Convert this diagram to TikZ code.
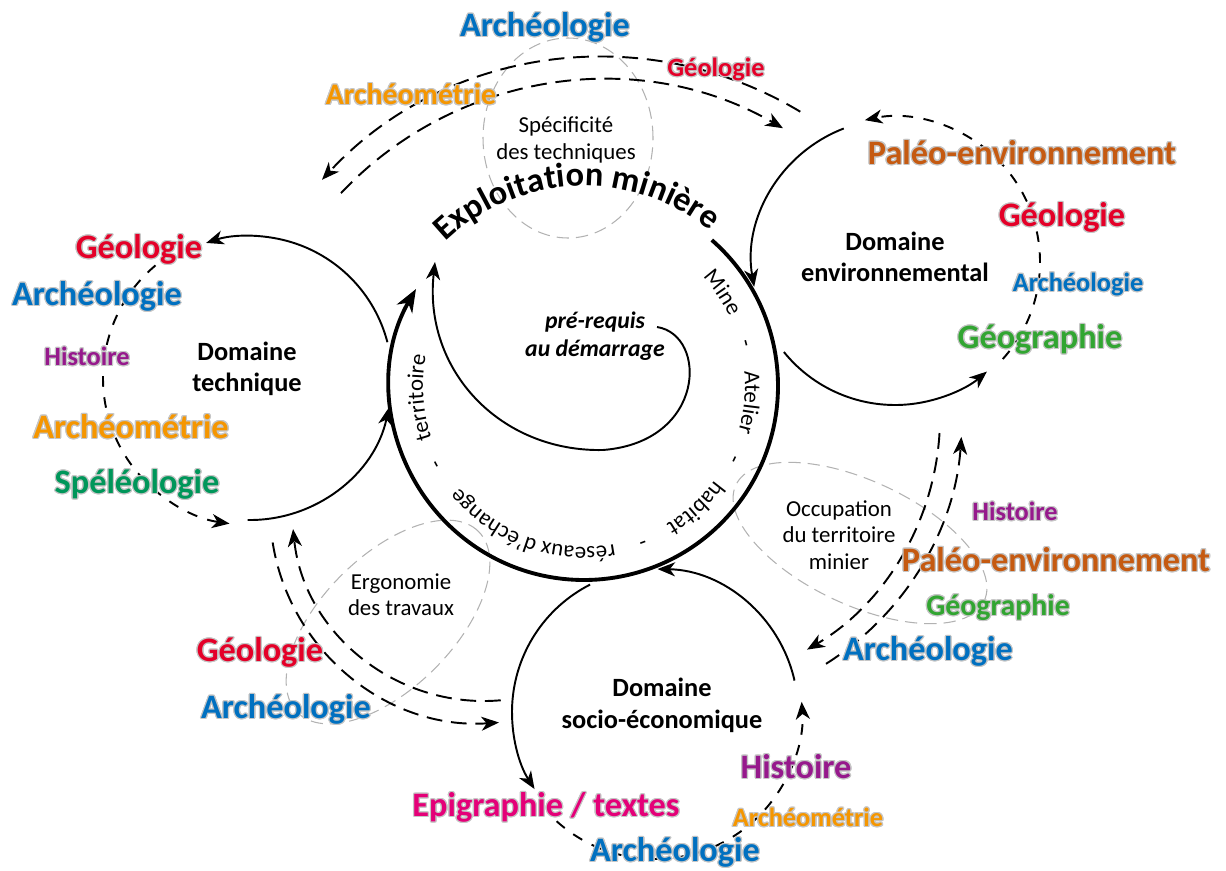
\documentclass[tikz,border=0pt]{standalone}
\usepackage{fontspec}
\setmainfont{Carlito}
\usepackage{contour}
\contourlength{0.7pt}
\usetikzlibrary{arrows.meta,decorations.text}

\definecolor{archblue}{RGB}{0,112,192}
\definecolor{geored}{RGB}{228,0,40}
\definecolor{metrieorange}{RGB}{245,150,0}
\definecolor{paleobrown}{RGB}{197,90,17}
\definecolor{geogreen}{RGB}{50,165,50}
\definecolor{speleogreen}{RGB}{0,150,90}
\definecolor{histpurple}{RGB}{150,25,140}
\definecolor{epipink}{RGB}{228,0,120}

\newcommand\glow[1]{\contour{gray!45}{#1}}
\newcommand\ringfont{\fontsize{13}{15}\selectfont}
\newcommand\titlefont{\bfseries\fontsize{19.5}{22}\selectfont}

\begin{document}
\begin{tikzpicture}[x=0.2mm,y=0.2mm]
        \tikzstyle{every node}=[font=\fontsize{13}{15}\selectfont, align=center]
        \tikzstyle{bigword}=[font=\bfseries\fontsize{19.5}{20}\selectfont]
        \tikzstyle{midword}=[font=\bfseries\fontsize{17}{18}\selectfont]
        \tikzstyle{smallword}=[font=\bfseries\fontsize{15}{16}\selectfont]
        \tikzstyle{domainlabel}=[font=\bfseries\fontsize{15}{18}\selectfont]
        \tikzstyle{flow}=[line width=1.1pt, -{Stealth[length=10pt,width=8pt,inset=3pt]}]
        \tikzstyle{link}=[flow, dash pattern=on 9pt off 5pt]
        \tikzstyle{orbit}=[flow, dash pattern=on 6pt off 6pt]
        \tikzstyle{zone}=[draw=gray!60, line width=0.6pt, dash pattern=on 7pt off 4pt]
        \tikzstyle{core}=[line width=2.2pt, -{Stealth[length=13pt,width=10pt,inset=4pt]}]

        \useasboundingbox (0,0) rectangle (1226,-870);

        \coordinate (hubC) at (584,-386);
        \coordinate (envC) at (895,-262);
        \coordinate (techC) at (250,-378);
        \coordinate (socC) at (655,-712);
        \coordinate (topC) at (603,-440);
        \coordinate (leftC) at (484,-509);
        \coordinate (rightC) at (670,-417);
        \coordinate (spiral) at (657,-327);

        \draw[zone] (568,-138) ellipse [x radius=85, y radius=100];
        \draw[zone, rotate around={45:(388,-622)}] (388,-622) ellipse [x radius=128, y radius=66];
        \draw[zone, rotate around={-25:(860,-543)}] (860,-543) ellipse [x radius=137, y radius=62];

        \node (spec) at (566,-140) {Spécificité\\des techniques};
        \node (ergo) at (401,-595) {Ergonomie\\des travaux};
        \node (occup) at (839,-535) {Occupation\\du territoire\\minier};

        \draw[core] ([shift={(48.8:194)}]hubC) arc[start angle=48.8, end angle=-210, radius=194];
        \path[decorate, decoration={text along path, text align=center, text={|\titlefont|Exploitation minière}}]
            ([shift={(152.4:200)}]hubC) arc[start angle=152.4, end angle=32.4, radius=200];
        \foreach \a/\w in {34/Mine, 14.8/-, -5.7/Atelier, -26/-, -47.6/habitat, -69.4/-, -110/{réseaux d'échange}, -152/-, -176/territoire}
            \path[decorate, decoration={text along path, text align=center, text/.expanded={|\noexpand\ringfont|\w}}]
                ([shift={(\a+40:161)}]hubC) arc[start angle=\a+40, end angle=\a-40, radius=161];

        \node[font=\bfseries\itshape\fontsize{13.5}{16}\selectfont] (prereq) at (595,-336) {pré-requis\\au démarrage};
        \draw[flow] (spiral) .. controls (708,-335) and (706,-442) .. (603,-450)
            .. controls (500,-452) and (423,-370) .. (435,-262);

        \node[domainlabel] (envDom) at (895,-257) {Domaine\\environnemental};
        \draw[flow] ([shift={(111:143)}]envC) arc[start angle=111, end angle=190, radius=143];
        \draw[flow] ([shift={(219:143)}]envC) arc[start angle=219, end angle=310, radius=143];
        \draw[orbit] ([shift={(-42:145)}]envC) arc[start angle=-42, end angle=102, radius=145];

        \node[domainlabel] (techDom) at (247,-369) {Domaine\\technique};
        \draw[flow] ([shift={(14.6:142)}]techC) arc[start angle=14.6, end angle=108, radius=142];
        \draw[flow] ([shift={(-91:142)}]techC) arc[start angle=-91, end angle=-12, radius=142];
        \draw[orbit] ([shift={(130:147)}]techC) arc[start angle=130, end angle=262, radius=147];

        \node[domainlabel] (socDom) at (662,-705) {Domaine\\socio-économique};
        \draw[flow] ([shift={(117:143)}]socC) arc[start angle=117, end angle=212.6, radius=143];
        \draw[flow] ([shift={(12.7:143)}]socC) arc[start angle=12.7, end angle=89, radius=143];
        \draw[orbit] ([shift={(228:147)}]socC) arc[start angle=228, end angle=364, radius=147];

        \draw[link] ([shift={(59:383)}]topC) arc[start angle=59, end angle=137.2, radius=383];
        \draw[link] ([shift={(136.7:360)}]topC) arc[start angle=136.7, end angle=60, radius=360];
        \draw[link] ([shift={(189:214)}]leftC) arc[start angle=189, end angle=274, radius=214];
        \draw[link] ([shift={(275:192)}]leftC) arc[start angle=275, end angle=186, radius=192];
        \draw[link] ([shift={(-3.4:270)}]rightC) arc[start angle=-3.4, end angle=-59.5, radius=270];
        \draw[link] ([shift={(-57.7:292)}]rightC) arc[start angle=-57.7, end angle=-3.9, radius=292];

        \node[bigword, text=archblue] (topArch) at (545,-28) {\glow{Archéologie}};
        \node[smallword, text=geored] (topGeo) at (716,-70) {\glow{Géologie}};
        \node[midword, text=metrieorange] (topMetrie) at (411,-95) {\glow{Archéométrie}};

        \node[bigword, text=paleobrown] (envPaleo) at (1022,-153) {\glow{Paléo-environnement}};
        \node[bigword, text=geored] (envGeo) at (1062,-218) {\glow{Géologie}};
        \node[smallword, text=archblue] (envArch) at (1078,-285) {\glow{Archéologie}};
        \node[bigword, text=geogreen] (envGeog) at (1040,-340) {\glow{Géographie}};

        \node[bigword, text=geored] (techGeo) at (139,-250) {\glow{Géologie}};
        \node[bigword, text=archblue] (techArch) at (97,-297) {\glow{Archéologie}};
        \node[smallword, text=histpurple] (techHist) at (87,-357) {\glow{Histoire}};
        \node[bigword, text=metrieorange] (techMetrie) at (131,-427) {\glow{Archéométrie}};
        \node[bigword, text=speleogreen] (techSpeleo) at (137,-485) {\glow{Spéléologie}};

        \node[smallword, text=histpurple] (occHist) at (1015,-512) {\glow{Histoire}};
        \node[bigword, text=paleobrown] (occPaleo) at (1056,-560) {\glow{Paléo-environnement}};
        \node[midword, text=geogreen] (occGeog) at (998,-608) {\glow{Géographie}};
        \node[bigword, text=archblue] (occArch) at (928,-652) {\glow{Archéologie}};

        \node[bigword, text=epipink] (socEpi) at (546,-808) {\glow{Epigraphie / textes}};
        \node[bigword, text=archblue] (socArch) at (675,-853) {\glow{Archéologie}};
        \node[bigword, text=histpurple] (socHist) at (796,-767) {\glow{Histoire}};
        \node[smallword, text=metrieorange] (socMetrie) at (808,-818) {\glow{Archéométrie}};

        \node[bigword, text=geored] (ergGeo) at (260,-653) {\glow{Géologie}};
        \node[bigword, text=archblue] (ergArch) at (286,-710) {\glow{Archéologie}};
    \end{tikzpicture}
\end{document}
